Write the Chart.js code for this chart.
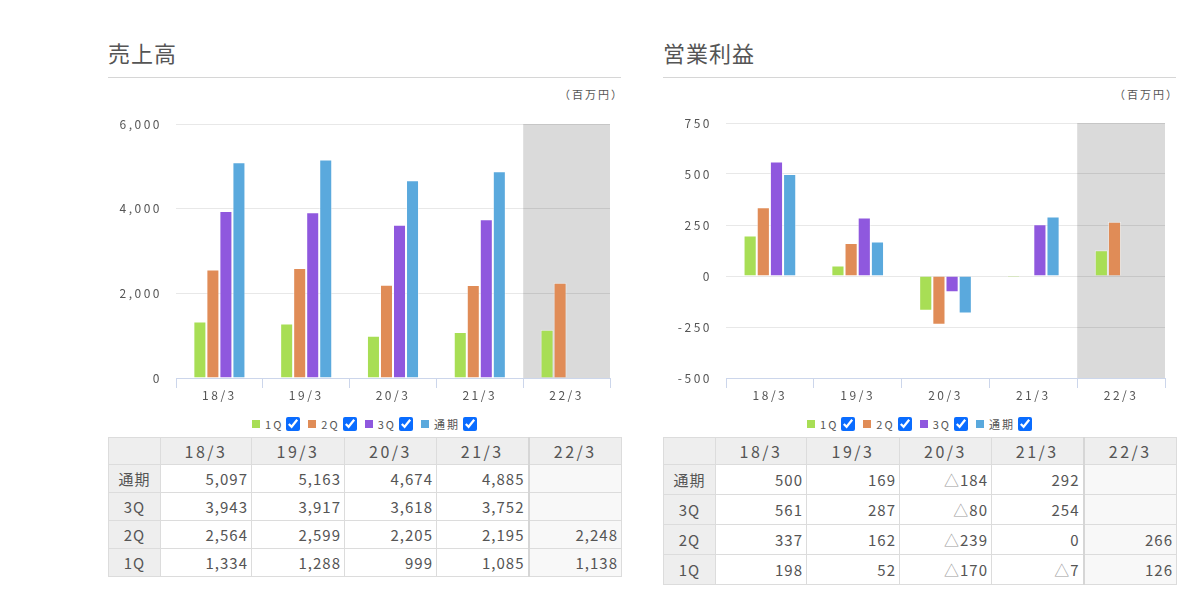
<!DOCTYPE html>
<html lang="ja">
<head>
<meta charset="utf-8">
<script src="https://cdn.jsdelivr.net/npm/chart.js@4/dist/chart.umd.min.js"></script>
<style>
  body { margin:0; background:#fff; font-family:"Noto Sans CJK JP","Noto Sans",sans-serif; color:#555; }
  .panel { position:absolute; top:0; width:513px; height:607px; }
  .title { position:absolute; left:0; top:36px; font-size:22px; color:#555; letter-spacing:1px; }
  .rule { position:absolute; left:0; top:77px; width:513px; height:1px; background:#d6d6d6; }
  .unit { position:absolute; right:-3px; top:86px; font-size:11px; letter-spacing:2px; color:#555; }
  .chartbox { position:absolute; left:0; top:110px; width:513px; height:300px; }
  .legend { position:absolute; left:0; top:415px; width:513px; text-align:center; font-size:11px; letter-spacing:2px; color:#555; }
  .legend .item { display:inline-flex; align-items:center; margin:0 4px; }
  .legend .sq { display:inline-block; width:8px; height:8px; margin-right:5px; }
  .legend input { margin:0 0 0 3px; width:14px; height:14px; accent-color:#0a6cff; }
  table { position:absolute; left:0; top:437px; width:513px; border-collapse:collapse; table-layout:fixed; font-size:15px; letter-spacing:1px; color:#555; }
  td, th { border:1px solid #dcdcdc; padding:0 3px; font-weight:400; }
  th { background:#eeeeee; text-align:center; }
  tr.head th { font-size:16px; letter-spacing:2.5px; }
  td { text-align:right; }
  td.last, th.last { border-left:2px solid #d6d6d6; }
  td.last { background:#f8f8f8; }
  tr.head th { height:26px; }
  #salesTable tr.row th, #salesTable tr.row td { height:27px; }
  #profitTable tr.row th, #profitTable tr.row td { height:29px; }
  .tri { color:#999; }
</style>
</head>
<body>

<div class="panel" style="left:108px">
  <div class="title">売上高</div>
  <div class="rule"></div>
  <div class="unit">（百万円）</div>
  <div class="chartbox"><canvas id="sales" width="513" height="300"></canvas></div>
  <div class="legend" id="salesLegend"></div>
  <table id="salesTable"></table>
</div>

<div class="panel" style="left:663px">
  <div class="title">営業利益</div>
  <div class="rule"></div>
  <div class="unit">（百万円）</div>
  <div class="chartbox"><canvas id="profit" width="513" height="300"></canvas></div>
  <div class="legend" id="profitLegend"></div>
  <table id="profitTable"></table>
</div>

<script>
// データ
const categories = ['18/3', '19/3', '20/3', '21/3', '22/3'];
const seriesNames = ['1Q', '2Q', '3Q', '通期'];
const seriesColors = ['#a8de55', '#e08c57', '#8f58de', '#5aa9dd'];

// 売上高
const sales1Q   = [1334, 1288, 999, 1085, 1138];
const sales2Q   = [2564, 2599, 2205, 2195, 2248];
const sales3Q   = [3943, 3917, 3618, 3752, null];
const salesFull = [5097, 5163, 4674, 4885, null];
const salesTicks = [0, 2000, 4000, 6000];

// 営業利益
const profit1Q   = [198, 52, -170, -7, 126];
const profit2Q   = [337, 162, -239, 0, 266];
const profit3Q   = [561, 287, -80, 254, null];
const profitFull = [500, 169, -184, 292, null];
const profitTicks = [-500, -250, 0, 250, 500, 750];

const FONT = '"Noto Sans CJK JP","Noto Sans",sans-serif';

// 最終年度（予想）の背景グレー
const shadeLast = {
  id: 'shadeLast',
  beforeDraw(chart) {
    const ctx = chart.ctx, x = chart.scales.x, area = chart.chartArea;
    const w = (x.right - x.left) / categories.length;
    ctx.save();
    ctx.fillStyle = '#dadada';
    ctx.fillRect(x.left + w * (categories.length - 1), area.top, w, area.height);
    ctx.restore();
  }
};

// 文字間隔
const spacing = {
  id: 'spacing',
  beforeLayout(chart) { chart.ctx.letterSpacing = '2.5px'; },
  beforeDraw(chart) { chart.ctx.letterSpacing = '2.5px'; }
};

function makeChart(id, values, ticks, yWidth, padTop) {
  const datasets = values.map(function (v, i) {
    return {
      label: seriesNames[i],
      data: v,
      backgroundColor: seriesColors[i],
      borderColor: 'rgba(255,255,255,0.45)',
      borderWidth: 1,
      barPercentage: 1,
      categoryPercentage: 0.6
    };
  });
  return new Chart(document.getElementById(id), {
    type: 'bar',
    data: { labels: categories, datasets: datasets },
    options: {
      responsive: false,
      animation: false,
      devicePixelRatio: 1,
      layout: { padding: { top: padTop, right: 11, left: 0, bottom: 0 } },
      plugins: { legend: { display: false }, tooltip: { enabled: false } },
      scales: {
        x: {
          grid: { drawOnChartArea: false, tickLength: 10, color: '#ccd6eb', offset: true },
          border: { color: '#ccd6eb' },
          ticks: { font: { family: FONT, size: 12 }, color: '#555', padding: 0 },
          afterFit: function (s) { s.height = 32; }
        },
        y: {
          min: ticks[0],
          max: ticks[ticks.length - 1],
          afterBuildTicks: function (s) { s.ticks = ticks.map(function (v) { return { value: v }; }); },
          // 目盛り線は透明にしてラベル位置の余白として使う
          grid: { drawTicks: true, tickLength: 14, tickColor: 'rgba(0,0,0,0)', color: 'rgba(0,0,0,0.09)' },
          border: { display: false },
          ticks: {
            font: { family: FONT, size: 12 }, color: '#555', padding: 0,
            callback: function (v) { return v.toLocaleString('en-US'); }
          },
          afterFit: function (s) { s.width = yWidth; }
        }
      }
    },
    plugins: [shadeLast, spacing]
  });
}

makeChart('sales', [sales1Q, sales2Q, sales3Q, salesFull], salesTicks, 68, 14);
makeChart('profit', [profit1Q, profit2Q, profit3Q, profitFull], profitTicks, 63, 13);

// 凡例
function makeLegend(id) {
  const el = document.getElementById(id);
  seriesNames.forEach(function (name, i) {
    const item = document.createElement('span');
    item.className = 'item';
    item.innerHTML = '<span class="sq" style="background:' + seriesColors[i] + '"></span>' +
      '<span>' + name + '</span><input type="checkbox" checked>';
    el.appendChild(item);
  });
}
makeLegend('salesLegend');
makeLegend('profitLegend');

// 表
function fmt(v) {
  if (v === null) return '';
  if (v < 0) return '<span class="tri">△</span>' + Math.abs(v).toLocaleString('en-US');
  return v.toLocaleString('en-US');
}
function makeTable(id, values) {
  const widths = [52, 91, 93, 92, 92, 93];
  let html = '<colgroup>' + widths.map(function (w) { return '<col style="width:' + w + 'px">'; }).join('') + '</colgroup>';
  html += '<tr class="head"><th></th>' + categories.map(function (c, j) {
    return '<th' + (j === categories.length - 1 ? ' class="last"' : '') + '>' + c + '</th>';
  }).join('') + '</tr>';
  for (let i = seriesNames.length - 1; i >= 0; i--) {
    html += '<tr class="row"><th>' + seriesNames[i] + '</th>' + values[i].map(function (v, j) {
      return '<td' + (j === categories.length - 1 ? ' class="last"' : '') + '>' + fmt(v) + '</td>';
    }).join('') + '</tr>';
  }
  document.getElementById(id).innerHTML = html;
}
makeTable('salesTable', [sales1Q, sales2Q, sales3Q, salesFull]);
makeTable('profitTable', [profit1Q, profit2Q, profit3Q, profitFull]);
</script>
</body>
</html>
